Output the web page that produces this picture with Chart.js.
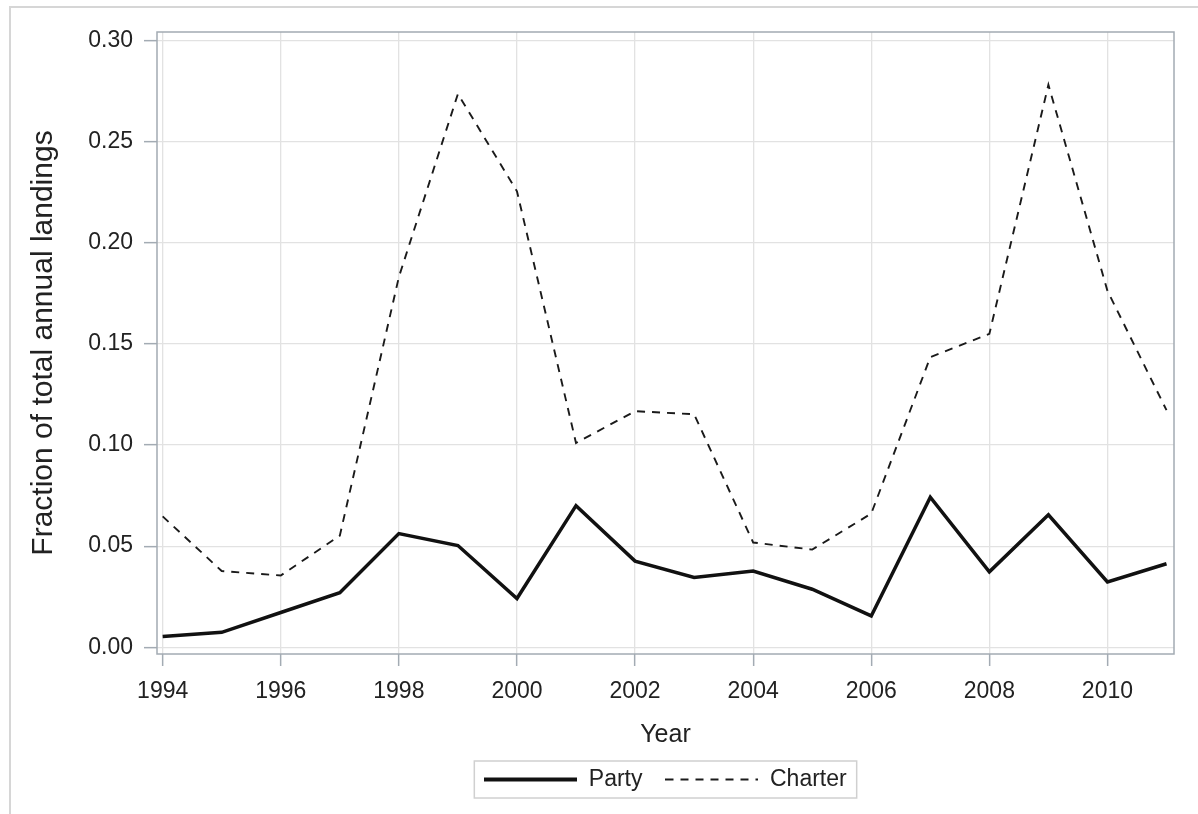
<!DOCTYPE html>
<html>
<head>
<meta charset="utf-8">
<title>Fraction of total annual landings</title>
<script src="https://cdn.jsdelivr.net/npm/chart.js@4/dist/chart.umd.min.js"></script>
<style>
    body { margin: 0; background: #fff; }
    #wrap { position: relative; width: 1198px; height: 814px; }
</style>
</head>
<body>
<div id="wrap"><canvas id="chart1"></canvas></div>
<script>
// Data
let years = [1994, 1995, 1996, 1997, 1998, 1999, 2000, 2001, 2002, 2003, 2004, 2005, 2006, 2007, 2008, 2009, 2010, 2011];
let party = [0.0054, 0.0074, 0.0172, 0.0270, 0.0562, 0.0503, 0.0241, 0.0700, 0.0426, 0.0345, 0.0377, 0.0287, 0.0155, 0.0742, 0.0373, 0.0655, 0.0323, 0.0413];
let charter = [0.0647, 0.0377, 0.0355, 0.0552, 0.1830, 0.2735, 0.2254, 0.1010, 0.1167, 0.1152, 0.0518, 0.0483, 0.0661, 0.1434, 0.1549, 0.2780, 0.1762, 0.1172];
let xTicks = [1994, 1996, 1998, 2000, 2002, 2004, 2006, 2008, 2010];
let yTicks = [0, 0.05, 0.10, 0.15, 0.20, 0.25, 0.30];

const frameColor = '#a3abb3';
const gridColor = '#e2e2e2';
const textColor = '#222';

Chart.defaults.font.family = "'Liberation Sans', Arial, sans-serif";
Chart.defaults.color = textColor;

function toPoints(vals){
    return years.map((yr, i) => ({x: yr, y: vals[i]}));
}

// Small canvases used as legend markers (legend point styles ignore borderDash)
function legendLine(width, dash, color){
    let c = document.createElement('canvas');
    c.width = 93;
    c.height = 8;
    let g = c.getContext('2d');
    g.strokeStyle = color;
    g.lineWidth = width;
    g.setLineDash(dash);
    g.beginPath();
    g.moveTo(0, 4);
    g.lineTo(93, 4);
    g.stroke();
    return c;
}

// Frame round the plot, the outer page border and the legend box
const framePlugin = {
    id: 'frame',
    afterDraw(chart){
        const ctx = chart.ctx;
        const a = chart.chartArea;
        ctx.save();
        ctx.setLineDash([]);
        // outer border (top + left only)
        ctx.strokeStyle = '#d6d6d6';
        ctx.lineWidth = 2;
        ctx.beginPath();
        ctx.moveTo(chart.width, 7);
        ctx.lineTo(10, 7);
        ctx.lineTo(10, chart.height);
        ctx.stroke();
        // plot frame
        ctx.strokeStyle = frameColor;
        ctx.lineWidth = 1.5;
        ctx.strokeRect(a.left, a.top, a.right - a.left, a.bottom - a.top);
        // legend box
        let boxes = chart.legend.legendHitBoxes;
        if(boxes && boxes.length){
            let first = boxes[0];
            let last = boxes[boxes.length - 1];
            let mid = first.top + first.height / 2;
            ctx.strokeStyle = '#d0d0d0';
            ctx.lineWidth = 1.5;
            ctx.strokeRect(first.left - 10, mid - 18.5, last.left + last.width + 10 - (first.left - 10), 37);
        }
        ctx.restore();
    }
};

var ctx1 = document.getElementById('chart1');
var data1 = {
    datasets: [{
        label: 'Party',
        data: toPoints(party),
        borderColor: '#111',
        backgroundColor: '#111',
        borderWidth: 3.5,
        pointRadius: 0,
        pointStyle: legendLine(4, [], '#111'),
        tension: 0
    }, {
        label: 'Charter',
        data: toPoints(charter),
        borderColor: '#1a1a1a',
        backgroundColor: '#1a1a1a',
        borderWidth: 1.9,
        borderDash: [8, 7],
        pointRadius: 0,
        pointStyle: legendLine(1.9, [8, 7], '#1a1a1a'),
        tension: 0
    }]
};

var options1 = {
    responsive: true,
    maintainAspectRatio: false,
    animation: false,
    layout: {
        padding: {left: 10, top: 32, right: 24, bottom: 13}
    },
    plugins: {
        legend: {
            display: true,
            position: 'bottom',
            fullSize: false,
            labels: {
                usePointStyle: true,
                pointStyleWidth: 93,
                padding: 23,
                color: textColor,
                font: {size: 23}
            }
        },
        tooltip: {enabled: false}
    },
    scales: {
        x: {
            type: 'linear',
            min: 1993.904,
            max: 2011.127,
            afterBuildTicks: function(scale){
                scale.ticks = xTicks.map(v => ({value: v}));
            },
            afterFit: function(scale){
                scale.height = 91;
            },
            ticks: {
                autoSkip: false,
                maxRotation: 0,
                padding: 12,
                font: {size: 23},
                callback: function(v){ return String(v); }
            },
            grid: {
                color: gridColor,
                lineWidth: 1.3,
                tickColor: frameColor,
                tickLength: 12,
                tickWidth: 1.5
            },
            border: {display: false},
            title: {
                display: true,
                text: 'Year',
                font: {size: 25, lineHeight: 0.8},
                padding: 0
            }
        },
        y: {
            type: 'linear',
            min: -0.0033,
            max: 0.3041,
            afterBuildTicks: function(scale){
                scale.ticks = yTicks.map(v => ({value: v}));
            },
            afterFit: function(scale){
                scale.width = 147;
            },
            ticks: {
                padding: 11,
                font: {size: 23},
                callback: function(v){ return v.toFixed(2); }
            },
            grid: {
                color: gridColor,
                lineWidth: 1.3,
                tickColor: frameColor,
                tickLength: 13,
                tickWidth: 1.5
            },
            border: {display: false},
            title: {
                display: true,
                text: 'Fraction of total annual landings',
                font: {size: 30},
                padding: {top: 16, bottom: 0}
            }
        }
    }
};

var chart1 = new Chart(ctx1, {
    type: 'line',
    data: data1,
    options: options1,
    plugins: [framePlugin]
});
</script>
</body>
</html>
